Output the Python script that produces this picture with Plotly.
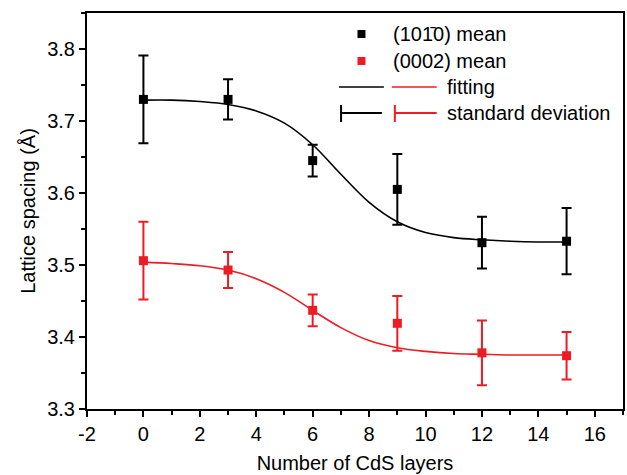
import plotly.graph_objects as go

# ---- data ----
layers = [0, 3, 6, 9, 12, 15]
mean_1010 = [3.730, 3.730, 3.645, 3.605, 3.531, 3.533]
sd_1010 = [0.061, 0.028, 0.022, 0.049, 0.036, 0.046]
mean_0002 = [3.506, 3.493, 3.437, 3.419, 3.378, 3.374]
sd_0002 = [0.054, 0.025, 0.022, 0.038, 0.045, 0.033]

# fitted curves
fit_x = [0, 1, 2, 3, 4, 5, 6, 7, 8, 9, 10, 11, 12, 13, 14, 15]
fit_1010 = [3.729, 3.729, 3.727, 3.723, 3.714, 3.697, 3.667, 3.626, 3.587, 3.560,
            3.545, 3.538, 3.535, 3.533, 3.532, 3.532]
fit_0002 = [3.504, 3.502, 3.499, 3.493, 3.481, 3.462, 3.437, 3.413, 3.395, 3.385,
            3.380, 3.377, 3.376, 3.375, 3.375, 3.375]

x_ticks = [-2, 0, 2, 4, 6, 8, 10, 12, 14, 16]
y_ticks = [3.3, 3.4, 3.5, 3.6, 3.7, 3.8]

BLACK = "#000000"
RED = "#ED1C24"
FONT = "Liberation Sans, Arial, sans-serif"

fig = go.Figure()

fig.add_trace(go.Scatter(x=fit_x, y=fit_1010, mode="lines", line=dict(color=BLACK, width=1.6, shape="spline"),
                         showlegend=False, hoverinfo="skip"))
fig.add_trace(go.Scatter(x=fit_x, y=fit_0002, mode="lines", line=dict(color=RED, width=1.6, shape="spline"),
                         showlegend=False, hoverinfo="skip"))

fig.add_trace(go.Scatter(
    x=layers, y=mean_1010, mode="markers",
    marker=dict(symbol="square", size=9, color=BLACK),
    error_y=dict(type="data", array=sd_1010, visible=True, color=BLACK, thickness=2, width=5),
    showlegend=False))
fig.add_trace(go.Scatter(
    x=layers, y=mean_0002, mode="markers",
    marker=dict(symbol="square", size=9, color=RED),
    error_y=dict(type="data", array=sd_0002, visible=True, color=RED, thickness=2, width=5),
    showlegend=False))

# ---- custom legend (paper coordinates) ----
L, R, T, B = 87, 625, 13, 409
def px(x):
    return (x - L) / (R - L)
def py(y):
    return (B - y) / (B - T)

shapes = []
annots = []
# squares
for cy, col in [(34, BLACK), (61, RED)]:
    shapes.append(dict(type="rect", xref="paper", yref="paper",
                       x0=px(358.5), x1=px(366.5), y0=py(cy + 4), y1=py(cy - 4),
                       fillcolor=col, line=dict(width=0)))
annots.append(dict(text="(101\u03040) mean", x=px(392), y=py(34)))
annots.append(dict(text="(0002) mean", x=px(392), y=py(61)))
# fitting lines
shapes.append(dict(type="line", xref="paper", yref="paper", x0=px(340), x1=px(385), y0=py(87), y1=py(87),
                   line=dict(color=BLACK, width=1.6)))
shapes.append(dict(type="line", xref="paper", yref="paper", x0=px(393), x1=px(438), y0=py(87), y1=py(87),
                   line=dict(color=RED, width=1.6)))
annots.append(dict(text="fitting", x=px(446), y=py(87)))
# standard deviation symbols
for x0, x1, col in [(342, 383, BLACK), (396, 438, RED)]:
    shapes.append(dict(type="line", xref="paper", yref="paper", x0=px(x0), x1=px(x1), y0=py(113), y1=py(113),
                       line=dict(color=col, width=2)))
    shapes.append(dict(type="line", xref="paper", yref="paper", x0=px(x0), x1=px(x0), y0=py(105), y1=py(122),
                       line=dict(color=col, width=2)))
annots.append(dict(text="standard deviation", x=px(446), y=py(113)))

annotations = [dict(xref="paper", yref="paper", xanchor="left", yanchor="middle", showarrow=False,
                    font=dict(family=FONT, size=20, color=BLACK), **a) for a in annots]

axis_common = dict(
    showline=True, linecolor=BLACK, linewidth=2, mirror=True,
    ticks="outside", ticklen=6, tickwidth=1.5, tickcolor=BLACK,
    showgrid=False, zeroline=False,
    tickfont=dict(family=FONT, size=20, color=BLACK),
)

fig.update_layout(
    width=627, height=475,
    margin=dict(l=L, r=627 - R, t=T, b=475 - B),
    plot_bgcolor="white", paper_bgcolor="white",
    font=dict(family=FONT, size=20, color=BLACK),
    xaxis=dict(range=[-2, 17], tickvals=x_ticks, ticktext=[str(v) for v in x_ticks],
               minor=dict(ticks="outside", ticklen=4, tickwidth=1.5, tickcolor=BLACK, dtick=1, tick0=-1),
               title=dict(text="Number of CdS layers", font=dict(family=FONT, size=20), standoff=12),
               **axis_common),
    yaxis=dict(range=[3.3, 3.85], tickvals=y_ticks, ticktext=[f"{v:.1f}" for v in y_ticks],
               minor=dict(ticks="outside", ticklen=4, tickwidth=1.5, tickcolor=BLACK, dtick=0.05, tick0=3.35),
               title=dict(text="Lattice spacing (Å)", font=dict(family=FONT, size=20), standoff=6),
               **axis_common),
    shapes=shapes,
    annotations=annotations,
    showlegend=False,
)

fig.write_html("out.html", config={"displayModeBar": False},
               post_script="document.body.style.margin='0px';document.body.style.padding='0px';")
